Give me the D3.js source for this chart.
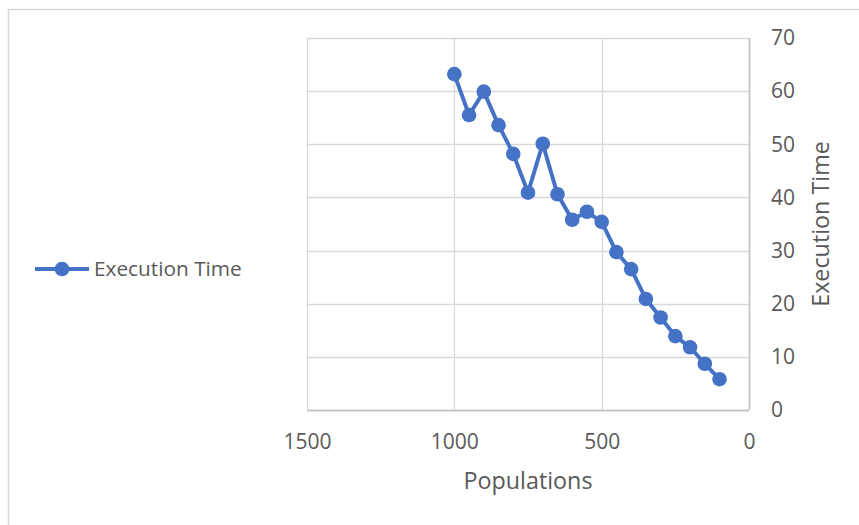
<!DOCTYPE html>
<html>
<head>
<meta charset="utf-8">
<script src="https://cdn.jsdelivr.net/npm/d3@7"></script>
<style>
  body { margin: 0; background: #fff; }
  svg text { font-family: "Open Sans", sans-serif; fill: #595959; }
</style>
</head>
<body>
<div class="vis-chart"></div>
<script>
// data
const populations = [1000, 950, 900, 850, 800, 750, 700, 650, 600, 550, 500, 450, 400, 350, 300, 250, 200, 150, 100];
const execTime = [63.2, 55.5, 59.9, 53.6, 48.2, 40.9, 50.1, 40.6, 35.8, 37.3, 35.4, 29.7, 26.5, 20.9, 17.4, 13.9, 11.8, 8.7, 5.8];
const xTicks = [1500, 1000, 500, 0];
const yTicks = [0, 10, 20, 30, 40, 50, 60, 70];
const seriesName = "Execution Time";

const data = populations.map((p, i) => ({ pop: p, t: execTime[i] }));

const W = 859, H = 525;
let margin = { top: 38, right: 110, bottom: 115, left: 307 };

let svg = d3.select(".vis-chart")
  .append("svg")
  .attr("width", W)
  .attr("height", H);

// outer chart border (runs off the picture on the right and bottom)
svg.append("rect")
  .attr("x", 8.5).attr("y", 9.5)
  .attr("width", 1000).attr("height", 1000)
  .attr("fill", "none")
  .attr("stroke", "#d9d9d9")
  .attr("stroke-width", 1.5);

const width = 749 - margin.left;
const height = 410 - margin.top;

let g = svg.append("g")
  .attr("transform", "translate(" + margin.left + "," + margin.top + ")");

// x is reversed: 1500 on the left, 0 on the right
let x = d3.scaleLinear().domain([1500, 0]).range([0, width]);
let y = d3.scaleLinear().domain([0, 70]).range([height, 0]);

// gridlines
g.append("g")
  .selectAll("line.vgrid")
  .data(xTicks)
  .enter().append("line")
  .attr("x1", d => Math.round(x(d)) + 0.5)
  .attr("x2", d => Math.round(x(d)) + 0.5)
  .attr("y1", 0).attr("y2", height)
  .attr("stroke", "#d9d9d9").attr("stroke-width", 1.3);

g.append("g")
  .selectAll("line.hgrid")
  .data(yTicks)
  .enter().append("line")
  .attr("x1", 0).attr("x2", width)
  .attr("y1", d => Math.round(y(d)) + 0.5)
  .attr("y2", d => Math.round(y(d)) + 0.5)
  .attr("stroke", "#d9d9d9").attr("stroke-width", 1.3);

// axis lines: bottom and right
g.append("line")
  .attr("x1", 0).attr("x2", width)
  .attr("y1", height + 0.5).attr("y2", height + 0.5)
  .attr("stroke", "#bfbfbf").attr("stroke-width", 1.5);
g.append("line")
  .attr("x1", width + 0.5).attr("x2", width + 0.5)
  .attr("y1", 0).attr("y2", height)
  .attr("stroke", "#bfbfbf").attr("stroke-width", 1.5);

// x axis labels
let xAxis = g.append("g")
  .attr("transform", "translate(0," + height + ")")
  .call(d3.axisBottom(x).tickValues(xTicks).tickFormat(d3.format("d")).tickSize(0).tickPadding(24));
xAxis.select(".domain").remove();
xAxis.selectAll("text")
  .style("font-size", "21px")
  .style("font-family", "'Open Sans', sans-serif")
  .attr("fill", "#595959");

// y axis labels on the right
let yAxis = g.append("g")
  .attr("transform", "translate(" + width + ",0)")
  .call(d3.axisRight(y).tickValues(yTicks).tickFormat(d3.format("d")).tickSize(0).tickPadding(22));
yAxis.select(".domain").remove();
yAxis.selectAll("text")
  .style("font-size", "21px")
  .style("font-family", "'Open Sans', sans-serif")
  .attr("fill", "#595959");

// axis titles
g.append("text")
  .attr("x", width / 2)
  .attr("y", height + 79)
  .style("text-anchor", "middle")
  .style("font-size", "23.3px")
  .text("Populations");

g.append("text")
  .attr("transform", "translate(" + (width + 80) + "," + (height / 2) + ") rotate(-90)")
  .style("text-anchor", "middle")
  .style("font-size", "23.3px")
  .text("Execution Time");

// line + markers
g.append("path")
  .datum(data)
  .attr("fill", "none")
  .attr("stroke", "#4472c4")
  .attr("stroke-width", 4)
  .attr("stroke-linejoin", "round")
  .attr("d", d3.line().x(d => x(d.pop)).y(d => y(d.t)));

g.selectAll("circle")
  .data(data)
  .enter().append("circle")
  .attr("cx", d => x(d.pop))
  .attr("cy", d => y(d.t))
  .attr("r", 7.3)
  .attr("fill", "#4472c4");

// legend
let legend = svg.append("g").attr("transform", "translate(35,269)");
legend.append("line")
  .attr("x1", 0).attr("x2", 54)
  .attr("y1", 0).attr("y2", 0)
  .attr("stroke", "#4472c4").attr("stroke-width", 4);
legend.append("circle")
  .attr("cx", 27).attr("cy", 0).attr("r", 7.3)
  .attr("fill", "#4472c4");
legend.append("text")
  .attr("x", 59).attr("y", 0)
  .attr("dy", "0.35em")
  .style("font-size", "20.8px")
  .text(seriesName);
</script>
</body>
</html>
